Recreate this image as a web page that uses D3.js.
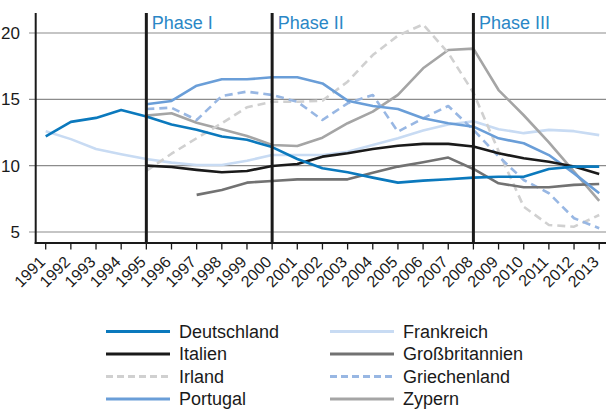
<!DOCTYPE html>
<html>
<head>
<meta charset="utf-8">
<script src="https://cdn.jsdelivr.net/npm/d3@7"></script>
<style>
  body { margin: 0; background: #fff; }
  svg { display: block; font-family: "Liberation Sans", Arial, sans-serif; }
</style>
</head>
<body>
<svg id="chart"></svg>
<script>
const width = 606;
const height = 410;

// years on the x axis
const years = d3.range(1991, 2014);
const yTicks = [5, 10, 15, 20];
const phaseYears = [1995, 2000, 2008];
const phaseNames = ['Phase I', 'Phase II', 'Phase III'];

// values per country, null = no data
const deutschland = [12.2, 13.3, 13.6, 14.2, 13.7, 13.1, 12.7, 12.2, 11.95, 11.4, 10.5, 9.8, 9.5, 9.1, 8.72, 8.87, 8.98, 9.1, 9.17, 9.17, 9.75, 9.93, 9.93];
const frankreich = [12.6, 12.0, 11.25, 10.86, 10.5, 10.23, 10.05, 10.05, 10.37, 10.8, 10.8, 10.8, 11.05, 11.55, 12.06, 12.65, 13.1, 13.35, 12.75, 12.45, 12.7, 12.6, 12.3];
const italien = [null, null, null, null, 10.0, 9.9, 9.68, 9.5, 9.6, 9.98, 10.13, 10.68, 10.93, 11.26, 11.5, 11.64, 11.64, 11.44, 10.93, 10.56, 10.3, 9.93, 9.37];
const grossbritannien = [null, null, null, null, null, null, 7.8, 8.17, 8.72, 8.85, 8.97, 8.97, 8.97, 9.47, 9.93, 10.26, 10.61, 9.75, 8.67, 8.37, 8.37, 8.55, 8.62];
const irland = [null, null, null, null, 9.6, 10.9, 12.07, 13.2, 14.4, 14.82, 14.82, 14.9, 16.33, 18.34, 19.8, 20.65, 18.5, 15.5, 11.1, 6.9, 5.53, 5.4, 6.28];
const griechenland = [null, null, null, null, 14.27, 14.37, 13.44, 15.25, 15.58, 15.33, 14.82, 13.44, 14.7, 15.33, 12.56, 13.57, 14.5, 12.7, 10.7, 8.92, 7.92, 6.04, 5.28];
const portugal = [null, null, null, null, 14.63, 14.88, 16.03, 16.51, 16.51, 16.66, 16.66, 16.2, 14.9, 14.5, 14.27, 13.57, 13.2, 12.94, 12.06, 11.69, 10.8, 9.42, 7.92];
const zypern = [null, null, null, null, 13.77, 13.95, 13.24, 12.74, 12.24, 11.56, 11.48, 12.11, 13.2, 14.07, 15.33, 17.34, 18.72, 18.82, 15.7, 13.8, 11.75, 9.55, 7.34];

const series = [
  {name: 'Frankreich', values: frankreich, color: '#c8dbf3', dash: null},
  {name: 'Zypern', values: zypern, color: '#a5a5a5', dash: null},
  {name: 'Irland', values: irland, color: '#d0d0d0', dash: '8,5'},
  {name: 'Griechenland', values: griechenland, color: '#98b7e3', dash: '8,5'},
  {name: 'Großbritannien', values: grossbritannien, color: '#727272', dash: null},
  {name: 'Portugal', values: portugal, color: '#6a9ed8', dash: null},
  {name: 'Italien', values: italien, color: '#1a1a1a', dash: null},
  {name: 'Deutschland', values: deutschland, color: '#0b79bd', dash: null}
];
const byName = {};
series.forEach(s => byName[s.name] = s);

const legendCols = [
  ['Deutschland', 'Italien', 'Irland', 'Portugal'],
  ['Frankreich', 'Großbritannien', 'Griechenland', 'Zypern']
];

const svg = d3.select('#chart').attr('width', width).attr('height', height);

const x = d3.scaleLinear().domain([1991, 2013]).range([45.7, 599.2]);
const y = d3.scaleLinear().domain([5, 20]).range([232, 33]);
const plotTop = 13;
const plotBottom = 243;
const axisLeft = 35.7;

// grid lines + y labels
svg.append('g').selectAll('line')
  .data(yTicks).enter().append('line')
    .attr('x1', 29).attr('x2', width)
    .attr('y1', d => y(d)).attr('y2', d => y(d))
    .attr('stroke', '#8c8c8c').attr('stroke-width', 1.2);

svg.append('g').selectAll('text')
  .data(yTicks).enter().append('text')
    .attr('x', 20).attr('y', d => y(d))
    .attr('dy', '0.36em')
    .attr('text-anchor', 'end')
    .attr('font-size', 17)
    .attr('fill', '#1a1a1a')
    .text(d => d);

// lines
const line = d3.line()
  .defined(d => d.v != null)
  .x(d => x(d.year))
  .y(d => y(d.v));

svg.append('g').selectAll('path')
  .data(series).enter().append('path')
    .attr('d', s => line(s.values.map((v, i) => ({year: years[i], v: v}))))
    .attr('fill', 'none')
    .attr('stroke', s => s.color)
    .attr('stroke-width', 2.6)
    .attr('stroke-dasharray', s => s.dash)
    .attr('stroke-linejoin', 'round');

// axes
svg.append('line')
  .attr('x1', axisLeft).attr('x2', axisLeft)
  .attr('y1', plotTop).attr('y2', plotBottom + 1)
  .attr('stroke', '#1a1a1a').attr('stroke-width', 2);
svg.append('line')
  .attr('x1', axisLeft - 1).attr('x2', width)
  .attr('y1', plotBottom).attr('y2', plotBottom)
  .attr('stroke', '#1a1a1a').attr('stroke-width', 2);

svg.append('g').selectAll('line')
  .data(years).enter().append('line')
    .attr('x1', d => x(d)).attr('x2', d => x(d))
    .attr('y1', plotBottom).attr('y2', plotBottom + 6.5)
    .attr('stroke', '#1a1a1a').attr('stroke-width', 1.3);

svg.append('g').selectAll('text')
  .data(years).enter().append('text')
    .attr('transform', d => `translate(${x(d) + 0.5},${plotBottom + 20}) rotate(-45)`)
    .attr('text-anchor', 'end')
    .attr('font-size', 16)
    .attr('fill', '#1a1a1a')
    .text(d => d);

// phase markers
svg.append('g').selectAll('line')
  .data(phaseYears).enter().append('line')
    .attr('x1', d => x(d)).attr('x2', d => x(d))
    .attr('y1', plotTop).attr('y2', plotBottom)
    .attr('stroke', '#1a1a1a').attr('stroke-width', 3);

svg.append('g').selectAll('text')
  .data(phaseYears).enter().append('text')
    .attr('x', d => x(d) + 5.5)
    .attr('y', 29)
    .attr('font-size', 18)
    .attr('fill', '#2a87c6')
    .text((d, i) => phaseNames[i]);

// legend
const legendX = [106, 330];
const rowY = [331.5, 354, 376.5, 399];
legendCols.forEach((col, ci) => {
  const g = svg.append('g');
  col.forEach((name, ri) => {
    const s = byName[name];
    g.append('line')
      .attr('x1', legendX[ci]).attr('x2', legendX[ci] + 64)
      .attr('y1', rowY[ri]).attr('y2', rowY[ri])
      .attr('stroke', s.color)
      .attr('stroke-width', 3)
      .attr('stroke-dasharray', s.dash ? '7,4' : null);
    g.append('text')
      .attr('x', legendX[ci] + 73)
      .attr('y', rowY[ri])
      .attr('dy', '0.36em')
      .attr('font-size', 18)
      .attr('fill', '#1a1a1a')
      .text(name);
  });
});
</script>
</body>
</html>
